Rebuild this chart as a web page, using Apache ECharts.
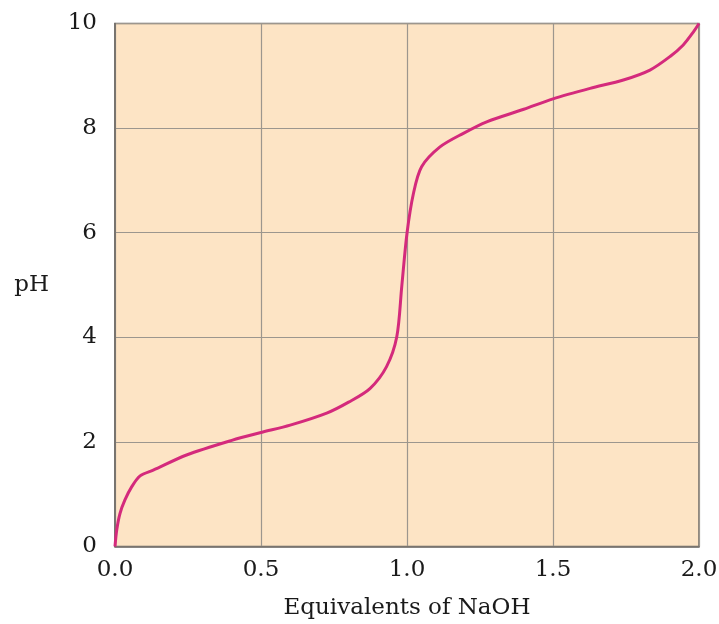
<!DOCTYPE html>
<html>
<head>
<meta charset="utf-8">
<script src="https://cdn.jsdelivr.net/npm/echarts@6/dist/echarts.min.js"></script>
<style>html,body{margin:0;padding:0;background:#fff}#c{width:719px;height:624px}</style>
</head>
<body>
<div id="c"></div>
<script>
const equivalents = [0, 0.006, 0.017, 0.034, 0.057, 0.086, 0.131, 0.245, 0.4, 0.5, 0.6, 0.725, 0.8, 0.873, 0.93, 0.965, 0.982, 1.0, 1.022, 1.05, 1.113, 1.193, 1.273, 1.4, 1.5, 1.627, 1.741, 1.832, 1.901, 1.946, 1.981, 2.0];
const phValues = [0, 0.32, 0.63, 0.89, 1.14, 1.35, 1.46, 1.75, 2.03, 2.18, 2.32, 2.55, 2.76, 3.02, 3.44, 4.01, 4.97, 5.99, 6.75, 7.26, 7.64, 7.90, 8.12, 8.36, 8.56, 8.76, 8.92, 9.11, 9.37, 9.59, 9.84, 10];
const xTitle = 'Equivalents of NaOH';
const yTitle = 'pH';

const font = '"DejaVu Serif", serif';
const chart = echarts.init(document.getElementById('c'));
chart.setOption({
  animation: false,
  backgroundColor: '#ffffff',
  grid: {
    left: 115, right: 20, top: 23.5, bottom: 77.5,
    outerBoundsMode: 'none', containLabel: false,
    show: true, backgroundColor: '#fde4c5', borderColor: '#6e6a66', borderWidth: 1.5
  },
  xAxis: {
    type: 'value', min: 0, max: 2, interval: 0.5,
    name: xTitle, nameLocation: 'middle', nameGap: 50,
    nameTextStyle: { fontFamily: font, fontSize: 23, color: '#1a1a1a' },
    axisLine: { show: true, lineStyle: { color: '#6e6a66', width: 1.5 } },
    axisTick: { show: false },
    axisLabel: { fontFamily: font, fontSize: 23, color: '#1a1a1a', margin: 12, formatter: v => v.toFixed(1) },
    splitLine: { show: true, lineStyle: { color: '#9c968e', width: 1.2 } }
  },
  yAxis: {
    type: 'value', min: 0, max: 10, interval: 2,
    name: yTitle, nameLocation: 'middle', nameGap: 66, nameRotate: 0,
    nameTextStyle: { fontFamily: font, fontSize: 23, color: '#1a1a1a' },
    axisLine: { show: true, lineStyle: { color: '#6e6a66', width: 1.5 } },
    axisTick: { show: false },
    axisLabel: { fontFamily: font, fontSize: 23, color: '#1a1a1a', margin: 18 },
    splitLine: { show: true, lineStyle: { color: '#9c968e', width: 1.2 } }
  },
  series: [{
    type: 'line',
    data: equivalents.map((x, i) => [x, phValues[i]]),
    smooth: 0.3,
    showSymbol: false,
    lineStyle: { color: '#d42a7c', width: 3 }
  }]
});
</script>
</body>
</html>
